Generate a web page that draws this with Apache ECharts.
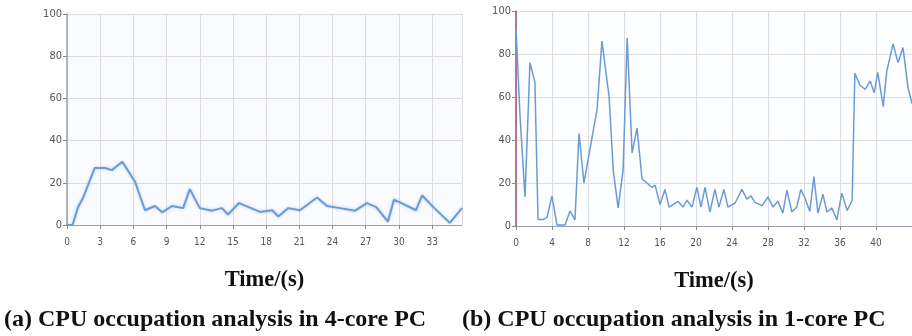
<!DOCTYPE html>
<html>
<head>
<meta charset="utf-8">
<script src="https://cdn.jsdelivr.net/npm/echarts@6/dist/echarts.min.js"></script>
<style>
  html, body { margin: 0; padding: 0; background: #fff; }
  #chart { width: 912px; height: 336px; }
</style>
</head>
<body>
<div id="chart"></div>
<script>
// (a) 4-core PC: sample time (s) and CPU occupation (%)
const timeA = [0, 0.5, 1.0, 1.45, 2.5, 3.45, 4.05, 5.0, 6.15, 7.05, 7.95, 8.6, 9.5, 10.5, 11.1, 12.0,
  13.1, 14.0, 14.55, 15.55, 17.45, 18.55, 19.1, 20.0, 21.05, 22.6, 23.5, 24.7, 26.05, 27.1, 27.95,
  29.0, 29.55, 31.55, 32.1, 33.2, 34.6, 35.7];
const cpuA = [0, 0, 8.5, 12.8, 27, 27, 26, 30, 20.5, 7, 9, 6, 9, 8, 17, 8,
  6.8, 8, 5, 10.4, 6.2, 7, 4, 8, 7, 13, 9, 8, 6.8, 10.4, 8.5,
  1.6, 12, 7, 14, 8, 1, 8];

// (b) 1-core PC
const timeB = [0, 0.45, 1.0, 1.55, 2.1, 2.45, 3.0, 3.45, 4.0, 4.55, 5.45, 6.0, 6.55, 7.0, 7.55, 9.0,
  9.55, 10.35, 10.8, 11.35, 11.9, 12.35, 12.9, 13.45, 14.0, 14.55, 15.1, 15.45, 16.0, 16.55, 17.0,
  18.0, 18.55, 19.0, 19.55, 20.1, 20.55, 21.0, 21.55, 22.1, 22.55, 23.1, 23.55, 24.35, 25.1, 25.65,
  26.1, 26.55, 27.35, 28.0, 28.55, 29.1, 29.65, 30.1, 30.65, 31.2, 31.65, 32.1, 32.65, 33.1, 33.55,
  34.1, 34.55, 35.1, 35.65, 36.2, 36.8, 37.35, 37.65, 38.2, 38.8, 39.35, 39.8, 40.2, 40.8, 41.2,
  41.9, 42.45, 43.0, 43.55, 44.0];
const cpuB = [92, 51, 13.5, 76, 67, 3, 3, 4, 14, 0.5, 0.5, 7, 2.8, 43, 20, 54,
  86, 60, 26, 8.4, 26, 87.5, 34, 45.5, 22, 20, 18, 19, 10, 17, 8.8,
  11.5, 8.8, 12, 8.8, 18, 8.8, 18, 6.5, 17, 8.8, 17, 8.8, 10.7, 17, 12.5,
  14, 11, 9.5, 13.5, 8.8, 11.5, 6, 16.7, 6.5, 8.8, 17, 13, 6.8, 23, 6,
  14.8, 6.5, 8.4, 2.8, 15.3, 7.2, 12, 71, 65.6, 63.5, 67.5, 62, 71.5, 55.5, 72,
  84.7, 76, 83, 64.6, 57];

const yTicks = [0, 20, 40, 60, 80, 100];
const xLabel = "Time/(s)";
const captions = ["(a) CPU occupation analysis in 4-core PC", "(b) CPU occupation analysis in 1-core PC"];

const pairs = (xs, ys) => xs.map((x, i) => [x, ys[i]]);

const lineBlue = "#6b9bd6";
const gridColor = "#dcdcdc";
const tickFont = "'Liberation Sans Narrow', 'DejaVu Sans Condensed', sans-serif";
const serif = "'Liberation Serif', 'DejaVu Serif', serif";

function xAxisOf(gridIndex, max, interval, axisColor) {
  return {
    type: "value",
    gridIndex,
    min: 0,
    max,
    interval,
    name: xLabel,
    nameLocation: "middle",
    nameGap: 44,
    nameTextStyle: { fontFamily: serif, fontWeight: "bold", fontSize: 22.5, color: "#111" },
    axisLine: { lineStyle: { color: axisColor, width: 1 } },
    axisTick: { length: 4, lineStyle: { color: "#888" } },
    axisLabel: { showMaxLabel: false, margin: 12, fontSize: 10, fontFamily: tickFont, color: "#555" },
    splitLine: { show: true, lineStyle: { color: gridColor } },
  };
}

function yAxisOf(gridIndex, axisColor) {
  return {
    type: "value",
    gridIndex,
    min: yTicks[0],
    max: yTicks[yTicks.length - 1],
    interval: yTicks[1] - yTicks[0],
    axisLine: { show: true, lineStyle: { color: axisColor, width: 1.5 } },
    axisTick: { show: true, length: 4, lineStyle: { color: "#888" } },
    axisLabel: { margin: 5, fontSize: 11, fontFamily: tickFont, color: "#555" },
    splitLine: { lineStyle: { color: gridColor } },
  };
}

const chart = echarts.init(document.getElementById("chart"), null, { renderer: "canvas" });
chart.setOption({
  animation: false,
  title: captions.map((text, i) => ({
    text,
    left: i === 0 ? 4 : 462,
    top: 308,
    padding: 0,
    textStyle: { fontFamily: serif, fontWeight: "bold", fontSize: 24, color: "#111" },
  })),
  grid: [
    { left: 67, top: 14, width: 395, height: 211, show: true, backgroundColor: "#f9fbfe", borderWidth: 0 },
    { left: 516, top: 11, right: 0, height: 215, show: true, backgroundColor: "#fdfeff", borderWidth: 0 },
  ],
  xAxis: [xAxisOf(0, 35.7, 3, "#9aa0a8"), xAxisOf(1, 44, 4, "#9aa0a8")],
  yAxis: [yAxisOf(0, "#9aa0a8"), yAxisOf(1, "#9a4f74")],
  series: [
    {
      type: "line",
      xAxisIndex: 0,
      yAxisIndex: 0,
      data: pairs(timeA, cpuA),
      showSymbol: false,
      lineStyle: { color: lineBlue, width: 2, shadowBlur: 3, shadowColor: "rgba(107,155,214,0.45)" },
    },
    {
      type: "line",
      xAxisIndex: 1,
      yAxisIndex: 1,
      data: pairs(timeB, cpuB),
      showSymbol: false,
      lineStyle: { color: lineBlue, width: 1.5 },
    },
  ],
});
</script>
</body>
</html>
